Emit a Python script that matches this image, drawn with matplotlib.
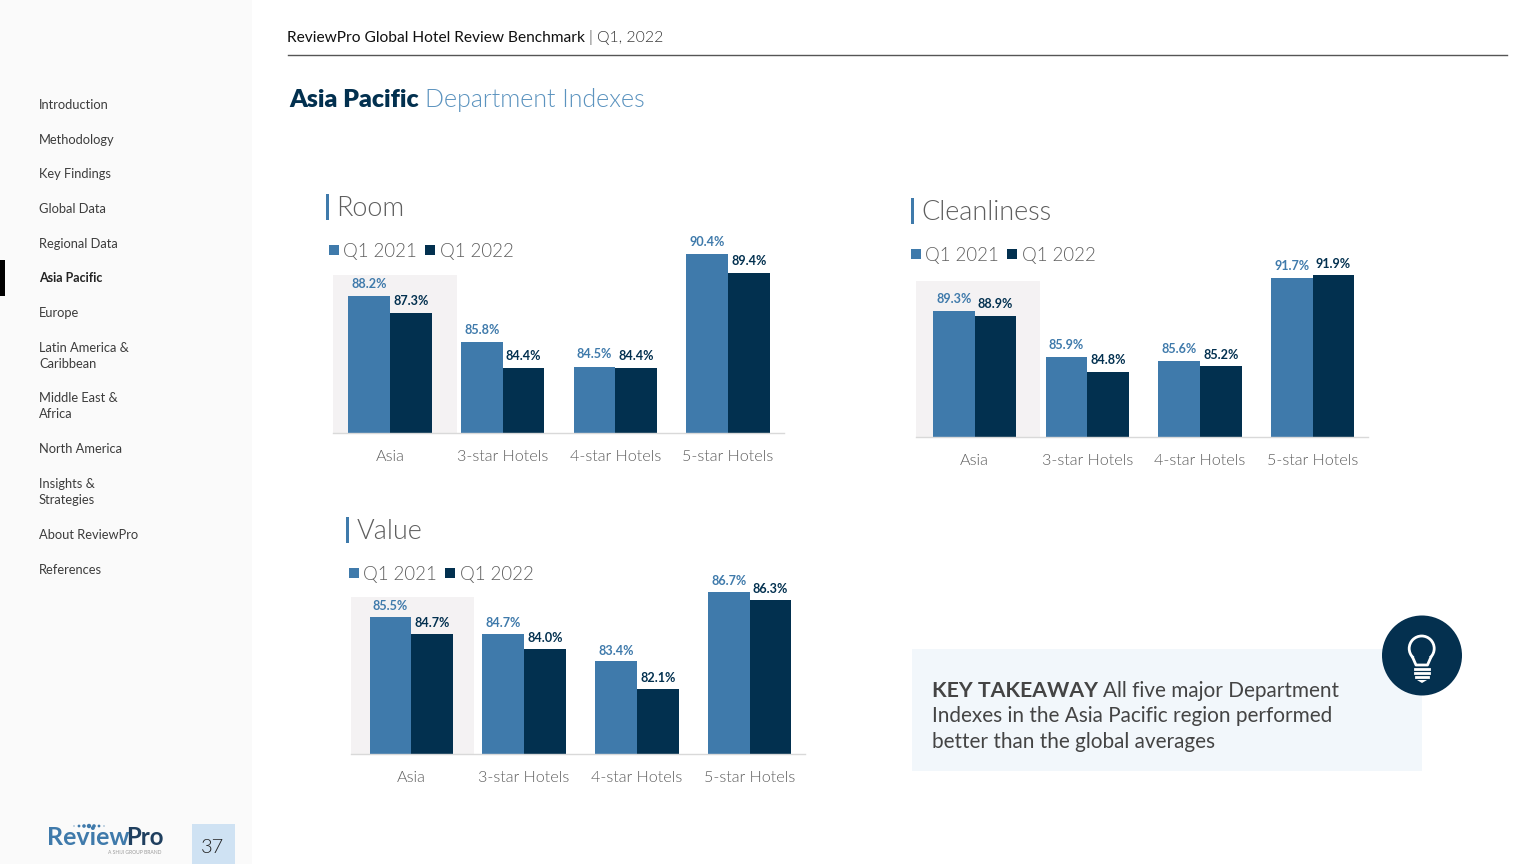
# recreate the Asia Pacific department index slide
import matplotlib
matplotlib.use('Agg')
import matplotlib.pyplot as plt
from matplotlib.patches import Rectangle, Circle

plt.rcParams['font.family'] = ['Lato', 'DejaVu Sans']

W, H = 1536, 864
BLUE = '#3f7aab'
DARK = '#02304f'
GREY = '#5e5e5e'
LIGHT = 300

categories = ['Asia', '3-star Hotels', '4-star Hotels', '5-star Hotels']
series_names = ['Q1 2021', 'Q1 2022']

room_2021 = [88.2, 85.8, 84.5, 90.4]
room_2022 = [87.3, 84.4, 84.4, 89.4]
clean_2021 = [89.3, 85.9, 85.6, 91.7]
clean_2022 = [88.9, 84.8, 85.2, 91.9]
value_2021 = [85.5, 84.7, 83.4, 86.7]
value_2022 = [84.7, 84.0, 82.1, 86.3]

nav_items = ['Introduction', 'Methodology', 'Key Findings', 'Global Data', 'Regional Data',
             'Asia Pacific', 'Europe', 'Latin America &\nCaribbean', 'Middle East &\nAfrica',
             'North America', 'Insights &\nStrategies', 'About ReviewPro', 'References']
nav_y = [104, 139, 173, 208, 243, 277, 312, 355, 405, 448, 491, 534, 569]

fig = plt.figure(figsize=(W / 100, H / 100), dpi=100, facecolor='white')

# full page axes in pixel coordinates, for everything that is not a chart
page = fig.add_axes([0, 0, 1, 1], zorder=0)
page.set_xlim(0, W)
page.set_ylim(H, 0)
page.axis('off')


def px(v):
    return v * 0.72


def label(x, y, s, size, color='#333333', weight='normal', **kw):
    kw.setdefault('va', 'center')
    return page.text(x, y + 1.5, s, fontsize=px(size), color=color, fontweight=weight, **kw)


# sidebar
page.add_patch(Rectangle((0, 0), 252, H, color='#fafafa', lw=0))
page.add_patch(Rectangle((0, 260), 5, 36, color='black', lw=0))
for item, y in zip(nav_items, nav_y):
    active = item == 'Asia Pacific'
    label(39, y - 0.5, item, 12.9 if not active else 12.5, color='#222222' if active else '#3c3c3c',
          weight='bold' if active else 'normal', linespacing=1.36)

# logo
label(47, 836, 'Review', 25, color=BLUE, weight='bold')
label(126, 836, 'Pro', 24, color='#1f3f5f', weight='bold')
for dx, r in zip([74, 79, 84, 89, 94, 99, 104], [0.6, 1.4, 1.8, 2.2, 1.8, 1.4, 0.6]):
    page.add_patch(Circle((dx, 826), r, color=BLUE, lw=0))
label(162, 851, 'A SHIJI GROUP BRAND', 5, color='#9a9a9a', ha='right')

# page number
page.add_patch(Rectangle((192, 824), 43, 40, color='#cfe2f3', lw=0))
label(212.5, 846, '37', 20, color='#222222', ha='center', weight=LIGHT)

# header
label(287, 36, 'ReviewPro Global Hotel Review Benchmark', 15.5, color='#111111')
label(589, 36, '| Q1, 2022', 15.8, color='#333333', weight=LIGHT)
page.plot([288, 1507], [55, 55], color='#555555', lw=1)
label(289, 98.5, 'Asia Pacific', 25, color=DARK, weight=800)
label(425, 98.5, 'Department Indexes', 25, color='#5b93bf', weight=LIGHT)


def chart(title, y2021, y2022, left, right, base, scale, ymin, c0, span, title_xy, legend_xy, shade_right, shade_top, gap):
    # pixel box for the axes, y limits follow from the px per index point
    top = base - 200
    ax = fig.add_axes([left / W, 1 - base / H, (right - left) / W, (base - top) / H], zorder=1)
    ax.patch.set_alpha(0)
    ax.set_xlim((left - c0) / span, (right - c0) / span)
    ax.set_ylim(ymin, ymin + 200 / scale)
    xs = list(range(len(categories)))
    w = 0.37
    ax.add_patch(Rectangle(((left - c0) / span, ymin), (shade_right - left) / span, (base - shade_top) / scale,
                           color='#f4f2f3', lw=0, zorder=0))
    ax.bar([x - w / 2 for x in xs], y2021, w, color=BLUE, zorder=2, label=series_names[0])
    ax.bar([x + w / 2 for x in xs], y2022, w, color=DARK, zorder=2, label=series_names[1])
    for x, a, b in zip(xs, y2021, y2022):
        ax.annotate('%.1f%%' % a, (x - w / 2, a), xytext=(0, px(gap)), textcoords='offset points',
                    ha='center', va='center', fontsize=px(12.6), color=BLUE, fontweight='bold', zorder=3)
        ax.annotate('%.1f%%' % b, (x + w / 2, b), xytext=(0, px(gap)), textcoords='offset points',
                    ha='center', va='center', fontsize=px(12.6), color=DARK, fontweight='bold', zorder=3)
    ax.set_xticks(xs)
    ax.set_xticklabels(categories, fontsize=px(16.1), color=GREY, fontweight=LIGHT)
    ax.tick_params(axis='x', length=0, pad=px(17))
    ax.set_yticks([])
    for s in ['top', 'left', 'right']:
        ax.spines[s].set_visible(False)
    ax.spines['bottom'].set_color('#d9d9d9')
    ax.spines['bottom'].set_linewidth(1)

    # title with its tick mark
    tx, ty = title_xy
    page.add_patch(Rectangle((tx, ty - 13), 2.5, 26, color=BLUE, lw=0))
    label(tx + 10.5, ty, title, 27, color=GREY, weight=LIGHT)

    # legend
    lx, ly = legend_xy
    page.add_patch(Rectangle((lx, ly - 5), 10, 10, color=BLUE, lw=0))
    label(lx + 14, ly, series_names[0], 18.7, color=GREY, weight=LIGHT)
    page.add_patch(Rectangle((lx + 96, ly - 5), 10, 10, color=DARK, lw=0))
    label(lx + 111, ly, series_names[1], 18.7, color=GREY, weight=LIGHT)


chart('Room', room_2021, room_2022, 333, 784, 433, 19.0, 81.0, 390, 112.7, (326, 207), (329, 250), 457, 275, 12.2)
chart('Cleanliness', clean_2021, clean_2022, 916, 1368, 437, 13.6, 80.0, 974.7, 112.6, (911, 211), (911, 254), 1040, 281, 11.5)
chart('Value', value_2021, value_2022, 351, 805, 754, 21.1, 79.0, 411.3, 112.8, (346, 530), (349, 573), 474, 597, 10.5)

# key takeaway box
page.add_patch(Rectangle((912, 649), 510, 122, color='#f2f7fb', lw=0))
label(932, 689.6, 'KEY TAKEAWAY', 21.3, color='#444444', weight='bold')
label(1103, 689.6, 'All five major Department', 20.8, color='#444444')
label(932, 715, 'Indexes in the Asia Pacific region performed', 20.8, color='#444444')
label(932, 740.6, 'better than the global averages', 20.8, color='#444444')

# light bulb icon
page.add_patch(Circle((1422, 655.5), 40, color='#04304f', lw=0, zorder=3))
page.add_patch(Circle((1421.7, 648.5), 12.5, fc='none', ec='white', lw=2, zorder=4))
page.add_patch(Rectangle((1414, 657), 16, 8, color='#04304f', lw=0, zorder=4))
page.plot([1412.5, 1416, 1427.5, 1431], [657, 665, 665, 657], color='white', lw=2, zorder=5, solid_capstyle='round')
page.plot([1415, 1429], [669, 669], color='white', lw=2, zorder=5)
page.plot([1415, 1429], [673, 673], color='white', lw=2, zorder=5)
page.plot([1416, 1428], [677, 677], color='white', lw=2, zorder=5)
page.add_patch(plt.Polygon([[1417, 680], [1427, 680], [1422, 683]], color='white', lw=0, zorder=5))

fig.savefig('out.png', dpi=100)
